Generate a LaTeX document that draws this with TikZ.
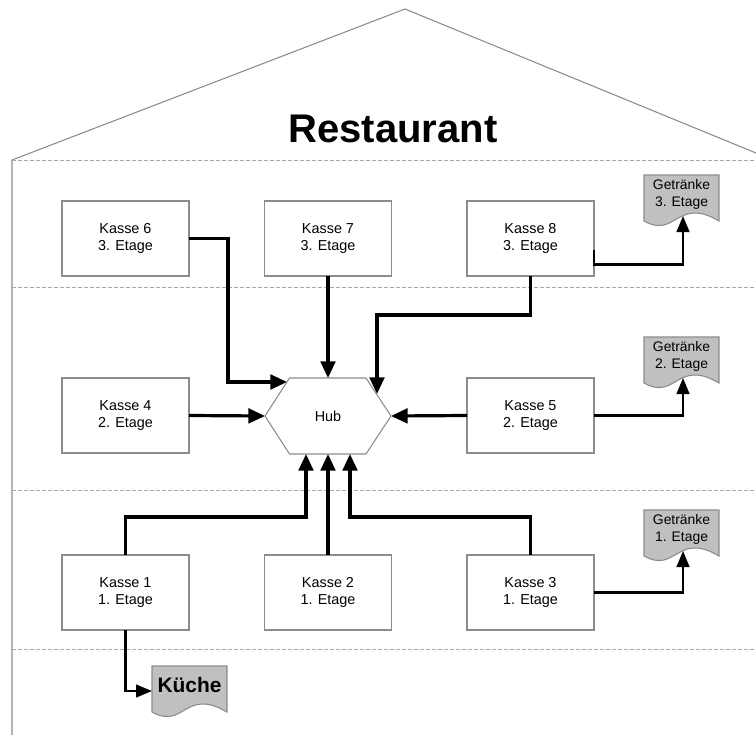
\documentclass[tikz,border=0pt]{standalone}
\usepackage{fontspec}
\setmainfont{Liberation Sans}
\usetikzlibrary{calc,arrows.meta,backgrounds}
\definecolor{edgegray}{HTML}{8C8C8C}
\definecolor{dashgray}{HTML}{A8A8A8}
\definecolor{docgray}{HTML}{C0C0C0}
\newcommand{\docshape}[1]{%
  \filldraw[docstyle] ($(#1.center)+(-37.5,-19)$) -- ($(#1.center)+(37.5,-19)$) -- ($(#1.center)+(37.5,27)$)
    .. controls ($(#1.center)+(-5,2)$) and ($(#1.center)+(-5,45)$) .. ($(#1.center)+(-37.5,27)$) -- cycle;}
\begin{document}
\begin{tikzpicture}[x=0.75pt,y=-0.75pt,
  kasse/.style={draw=edgegray, line width=0.8pt, minimum width=95.25pt, minimum height=56.25pt,
    inner sep=0pt, outer sep=0pt, align=center, font=\fontsize{10.8}{12.75}\selectfont},
  hubbox/.style={minimum width=94.5pt, minimum height=57pt, inner sep=0pt, outer sep=0pt,
    font=\fontsize{10.8}{12.75}\selectfont},
  docbox/.style={inner sep=0pt, outer sep=0pt, align=center, font=\fontsize{10.4}{12.8}\selectfont},
  docstyle/.style={fill=docgray, draw=edgegray, line width=0.8pt},
  conn/.style={line width=2.4pt, -{Triangle[length=12.5pt,width=11pt]}},
  thin/.style={line width=1.8pt, -{Triangle[length=12pt,width=9.5pt]}},
  floorline/.style={draw=dashgray, dash pattern=on 3pt off 1.5pt, line width=0.6pt},
  wall/.style={draw=edgegray, line width=0.8pt}]
\useasboundingbox (0,0) rectangle (756,735);

% house outline
\coordinate (roofL) at (12,160);
\coordinate (apex) at (405,9);
\coordinate (roofR) at (756,153);
\coordinate (floorB) at (12,735);
\draw[wall] (floorB) -- (roofL) -- (apex) -- (roofR);

% floor lines
\coordinate (f1a) at (12,160);  \coordinate (f1b) at (756,160);
\coordinate (f2a) at (12,287);  \coordinate (f2b) at (756,287);
\coordinate (f3a) at (12,490);  \coordinate (f3b) at (756,490);
\coordinate (f4a) at (12,649);  \coordinate (f4b) at (756,649);
\draw[floorline] (f1a) -- (f1b);
\draw[floorline] (f2a) -- (f2b);
\draw[floorline] (f3a) -- (f3b);
\draw[floorline] (f4a) -- (f4b);

% title
\node[font=\bfseries\fontsize{30}{36}\selectfont, anchor=base] (title) at (393,142) {Restaurant};

% cash registers
\node[kasse] (k6) at (125.5,238.5) {Kasse 6\\3. Etage};
\node[kasse] (k7) at (328,238.5) {Kasse 7\\3. Etage};
\node[kasse] (k8) at (530.5,238.5) {Kasse 8\\3. Etage};
\node[kasse] (k4) at (125.5,415.5) {Kasse 4\\2. Etage};
\node[kasse] (k5) at (530.5,415.5) {Kasse 5\\2. Etage};
\node[kasse] (k1) at (125.5,592.5) {Kasse 1\\1. Etage};
\node[kasse] (k2) at (328,592.5) {Kasse 2\\1. Etage};
\node[kasse] (k3) at (530.5,592.5) {Kasse 3\\1. Etage};

% hub
\node[hubbox] (hub) at (328,416) {Hub};
\draw[wall] (hub.west) -- ($(hub.north west)+(24.5,0)$) -- ($(hub.north east)+(-25,0)$) -- (hub.east)
  -- ($(hub.south east)+(-25,0)$) -- ($(hub.south west)+(24.5,0)$) -- cycle;

% documents
\node[docbox] (g3) at (681.5,194) {Getränke\\3. Etage};
\node[docbox] (g2) at (681.5,356) {Getränke\\2. Etage};
\node[docbox] (g1) at (681.5,529) {Getränke\\1. Etage};
\node[docbox, font=\bfseries\fontsize{15.7}{18}\selectfont] (ku) at (189.5,685) {Küche};
\begin{scope}[on background layer]
\docshape{g3}
\docshape{g2}
\docshape{g1}
\docshape{ku}
\end{scope}

% connectors to hub
\draw[conn] (k6.east) -| ($(hub.north west)+(-37,4)$) -- ($(hub.north west)+(22,4)$);
\draw[conn] (k7.south) -- (hub.north);
\draw[conn] (k8.south) -- ++(0,39) -| ($(hub.north east)+(-14,16)$);
\draw[conn] (k4.east) -- (hub.west);
\draw[conn] (k5.west) -- (hub.east);
\draw[conn] (k1.north) -- ++(0,-38) -| ($(hub.south)+(-22,0)$);
\draw[conn] (k2.north) -- (hub.south);
\draw[conn] (k3.north) -- ++(0,-38) -| ($(hub.south)+(22,0)$);

% connectors to drinks and kitchen
\draw[thin] ($(k8.east)+(0,11)$) -- ($(k8.east)+(0,26)$) -| ($(g3.center)+(1.5,22)$);
\draw[thin] (k5.east) -| ($(g2.center)+(1.5,22)$);
\draw[thin] (k3.east) -| ($(g1.center)+(1.5,22)$);
\draw[thin] (k1.south) |- ($(ku.center)+(-37.5,6)$);
\end{tikzpicture}
\end{document}
